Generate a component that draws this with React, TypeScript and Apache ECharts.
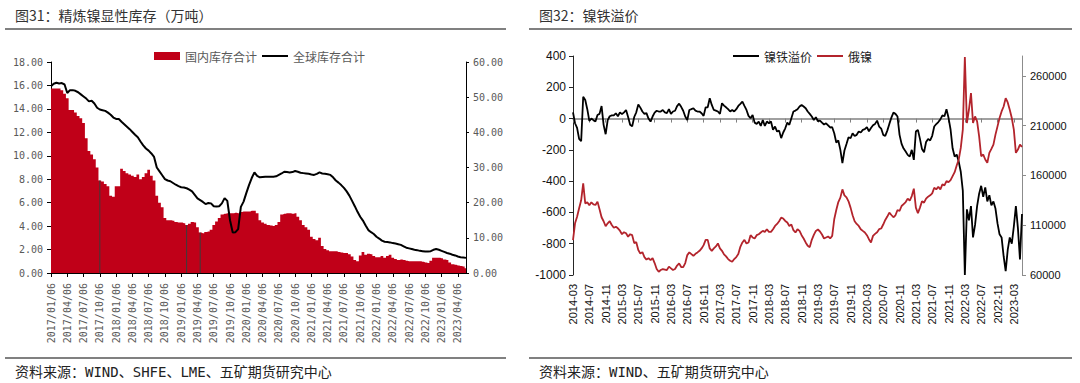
import React, { useEffect, useRef } from 'react';
import * as echarts from 'echarts';

// ---------- Figure 31: refined nickel visible inventory (10k t), semi-monthly from 2017/01 ----------
const domesticStock = [
  15.73, 15.73, 15.73, 15.73, 15.6, 15.3, 14.9, 13.9, 13.9, 13.7,
  13.4, 13.2, 12.8, 11.5, 10.4, 10.1, 9.7, 9.0, 7.9, 7.8,
  7.6, 7.4, 6.6, 6.5, 7.4, 7.4, 8.9, 8.7, 8.5, 8.4,
  8.3, 8.2, 8.4, 8.0, 8.2, 8.5, 8.8, 8.3, 7.9, 6.6,
  6.0, 5.6, 4.7, 4.5, 4.5, 4.45, 4.35, 4.3, 4.3, 4.25,
  4.1, 4.2, 4.35, 4.3, 3.9, 3.45, 3.4, 3.5, 3.55, 3.7,
  4.1, 4.4, 4.7, 5.0, 5.05, 5.1, 5.1, 5.1, 5.15, 5.1,
  5.2, 5.25, 5.25, 5.25, 5.3, 5.3, 5.1, 4.5, 4.3, 4.2,
  4.1, 4.05, 4.0, 4.1, 4.35, 5.0, 5.05, 5.1, 5.1, 5.05,
  5.1, 4.8, 4.5, 4.1, 3.9, 3.7, 3.1, 2.9, 2.8, 3.0,
  2.3, 2.05, 1.95, 1.85, 1.85, 1.85, 1.8, 1.75, 1.7, 1.7,
  1.6, 1.4, 1.1, 1.0, 1.5, 1.8, 1.55, 1.65, 1.6, 1.45,
  1.35, 1.35, 1.45, 1.3, 1.45, 1.55, 1.3, 1.2, 1.1, 1.15,
  1.1, 1.05, 1.0, 1.0, 1.0, 1.0, 1.0, 0.95, 0.9, 0.85,
  1.05, 1.3, 1.3, 1.3, 1.25, 1.15, 1.1, 0.9, 0.75, 0.7,
  0.65, 0.6, 0.55, 0.4,
];

const globalStock = [
  53.1, 53.8, 54.1, 53.9, 54.0, 53.6, 51.2, 52.0, 52.0, 51.8,
  51.4, 50.8, 50.2, 49.6, 48.8, 49.0, 48.2, 47.0, 46.5, 46.3,
  46.1, 45.6, 45.0, 44.2, 43.8, 43.8, 43.0, 42.3, 41.6, 40.9,
  40.1, 39.3, 38.6, 37.4, 36.3, 35.4, 34.8, 34.0, 33.0, 30.0,
  28.9, 27.8, 26.7, 26.3, 26.1, 25.6, 25.1, 24.7, 24.4, 24.3,
  24.1, 23.7, 23.2, 22.2, 21.2, 20.7, 20.2, 19.6, 19.9, 19.8,
  19.0, 18.9, 19.0, 19.8, 21.3, 20.5, 15.0, 11.5, 11.6, 12.5,
  18.8, 20.3, 22.7, 25.0, 27.0, 28.6, 27.6, 27.2, 27.3, 27.4,
  27.4, 27.4, 27.4, 27.5, 27.9, 28.3, 28.8, 28.7, 28.6, 28.7,
  29.0, 28.8, 28.5, 28.4, 28.3, 28.2, 28.0, 27.9, 28.2, 28.6,
  28.3, 28.2, 28.1, 27.9, 27.2, 26.3, 25.7, 25.0, 24.2, 23.2,
  22.0, 20.5, 19.0, 17.4, 16.0, 14.9, 13.5, 12.2, 11.6, 11.1,
  10.3, 9.8, 9.2, 8.9, 8.8, 8.7, 8.5, 8.4, 8.2, 8.0,
  7.6, 7.2, 7.0, 6.8, 6.6, 6.5, 6.3, 6.2, 6.1, 6.1,
  6.2, 6.6, 6.8, 6.6, 6.3, 6.0, 5.7, 5.5, 5.2, 5.0,
  4.7, 4.5, 4.4, 4.3,
];

// indices of the thin dark gaps visible inside the red area
const gapIndices = [18, 50, 55];

// ---------- Figure 32: NPI premium (left axis) and Russian nickel (right axis), semi-monthly from 2014-03 ----------
const nickelPigIronPremium = [
  40, -30, -60, -130, -145, 140, 119, 60, -15, 0,
  -10, -19, 23, 30, 80, -40, -100, -10, 15, 20,
  20, 34, 15, 40, 28, 40, 55, 10, -40, -50,
  10, 40, 90, 70, 45, 30, 35, 0, -19, 13,
  38, 50, 45, 45, 55, 40, 35, 60, 30, 45,
  50, 80, 95, 75, 50, 13, -10, 55, 60, 66,
  51, 45, 45, 34, 17, 72, 72, 130, 87, 55,
  51, 45, 30, 98, 83, 72, 60, 45, 55, 45,
  60, 81, 94, 108, 81, 55, 17, 2, 23, -26,
  -34, -19, -47, -9, -47, -19, -30, -19, -72, -51,
  -83, -77, -125, -89, -62, -26, -40, 2, 45, 51,
  60, 77, 87, 77, 66, 45, 30, 13, -9, 9,
  -17, -13, -26, -38, -30, -43, -57, -55, -94, -153,
  -140, -200, -285, -204, -162, -119, -126, -94, -111, -104,
  -83, -89, -72, -68, -55, -81, -60, -43, -34, -13,
  -51, -64, -104, -111, -77, -34, 6, 38, 30, 13,
  -104, -162, -192, -211, -232, -243, -200, -264, -83, -72,
  -130, -195, -215, -150, -130, -140, -110, -51, -35, -22,
  -5, 20, 15, 60, 5, -70, -190, -243, -230, -275,
  -340, -460, -1000, -580, -650, -560, -760, -680, -560, -480,
  -430, -500, -440, -530, -490, -555, -530, -575, -670, -740,
  -760, -880, -975, -840, -760, -800, -690, -560, -700, -900,
  -610,
];

const russianNickel = [
  95000, 111900, 118600, 127000, 135000, 152000, 132000, 133000, 130000, 133000,
  131000, 130300, 133700, 126000, 118000, 114000, 109000, 111900, 114000, 110200,
  107500, 108500, 106900, 104500, 101000, 103000, 101900, 98500, 101000, 100000,
  92000, 93000, 85100, 81500, 83000, 78000, 75500, 76800, 75000, 77000,
  72000, 66000, 63300, 65000, 66000, 65500, 65000, 68400, 66700, 65000,
  66000, 69500, 71700, 68000, 68000, 72000, 80000, 82700, 81000, 79300,
  81300, 82700, 84300, 86700, 90000, 95300, 95300, 86700, 84300, 86700,
  88700, 91700, 86700, 84300, 80700, 78700, 76000, 74300, 73300, 76000,
  78000, 81000, 88300, 92700, 95300, 91700, 92700, 100000, 97700, 96700,
  100000, 101000, 102700, 104300, 103300, 106000, 103300, 103300, 106000, 109300,
  111300, 114000, 117700, 116700, 114300, 112700, 109300, 110700, 105000, 102700,
  106000, 104300, 100000, 96700, 92700, 89300, 88000, 95300, 100300, 104300,
  105700, 103700, 100700, 96700, 97700, 98700, 96700, 99300, 116000, 125300,
  133300, 137700, 146000, 140000, 138000, 134000, 127700, 120000, 114000, 111300,
  109300, 106000, 104300, 102700, 100000, 96000, 92700, 99300, 101300, 103000,
  106000, 106700, 110700, 115300, 118700, 122700, 120300, 118000, 120000, 125300,
  124300, 129300, 131300, 133300, 136700, 134700, 139300, 146700, 127700, 122000,
  127700, 134000, 132700, 136700, 138700, 140000, 142000, 147700, 146000, 148700,
  146000, 151000, 150000, 154300, 153300, 155300, 159300, 163300, 170000, 176000,
  187700, 206000, 279000, 212700, 226000, 242700, 212700, 219300, 214300, 199300,
  179300, 181000, 176000, 172700, 182700, 186700, 191000, 201000, 209300, 217700,
  224300, 229300, 237700, 233300, 226000, 217700, 206000, 182700, 186000, 191000,
  188700,
];

// semi-monthly category names (time positions only)
function halfMonthCats(startYear: number, startMonth: number, count: number, days: [string, string], sep: string): string[] {
  const out: string[] = [];
  for (let i = 0; i < count; i++) {
    const mIdx = startMonth - 1 + Math.floor(i / 2);
    const y = startYear + Math.floor(mIdx / 12);
    const m = (mIdx % 12) + 1;
    out.push(`${y}${sep}${String(m).padStart(2, '0')}${sep}${days[i % 2]}`);
  }
  return out;
}

const stockDates = halfMonthCats(2017, 1, domesticStock.length, ['06', '21'], '/');
const premiumDates = halfMonthCats(2014, 3, nickelPigIronPremium.length, ['01', '16'], '-');

const RED_BAR = '#C00018';
const RED_LINE = '#B3242C';
const monoFont = "'DejaVu Sans Mono', 'Noto Sans CJK SC', monospace";
const sansFont = "'Liberation Sans', Arial, sans-serif";
const cjkFont = "'Noto Sans CJK SC', sans-serif";
const LINE_ICON = 'path://M0 0H26V2H0Z';

export default function App() {
  const ref = useRef<HTMLDivElement>(null);

  useEffect(() => {
    if (!ref.current) return;
    const chart = echarts.init(ref.current, null, { renderer: 'svg' });

    const gapData = domesticStock.map((v, i) => (gapIndices.includes(i) ? v : null));
    const plain = (v: number) => String(v);

    const option: any = {
      animation: false,
      backgroundColor: '#ffffff',
      textStyle: { fontFamily: cjkFont },
      grid: [
        { left: 51, top: 62, width: 415, height: 211, outerBoundsMode: 'none' },
        { left: 573, top: 56, width: 449, height: 219, outerBoundsMode: 'none' },
      ],
      legend: [
        {
          left: 154, top: 50, padding: 0, itemWidth: 26, itemHeight: 8, itemGap: 5,
          selectedMode: false,
          textStyle: { fontSize: 12, color: '#595959', fontFamily: cjkFont },
          data: [
            { name: '国内库存合计', icon: 'rect', itemStyle: { borderWidth: 0 } },
            { name: '全球库存合计', icon: LINE_ICON, itemStyle: { borderWidth: 0 } },
          ],
        },
        {
          left: 733, top: 50, padding: 0, itemWidth: 26, itemHeight: 8, itemGap: 5,
          selectedMode: false,
          textStyle: { fontSize: 12, color: '#222', fontFamily: cjkFont },
          data: [
            { name: '镍铁溢价', icon: LINE_ICON, itemStyle: { borderWidth: 0 } },
            { name: '俄镍', icon: LINE_ICON, itemStyle: { borderWidth: 0 } },
          ],
        },
      ],
      xAxis: [
        {
          type: 'category', gridIndex: 0, data: stockDates, boundaryGap: false,
          axisLine: { show: true, lineStyle: { color: '#000', width: 1 } },
          axisTick: { show: true, interval: 5, length: 4, lineStyle: { color: '#000' } },
          axisLabel: { interval: 5, rotate: 90, margin: 10, fontSize: 10, color: '#595959', fontFamily: monoFont },
          splitLine: { show: false },
        },
        {
          type: 'category', gridIndex: 1, data: premiumDates, boundaryGap: false, position: 'bottom',
          axisLine: { show: false, onZero: false },
          axisTick: { show: false },
          axisLabel: {
            interval: 7, rotate: 90, margin: 9, fontSize: 11, color: '#111', fontFamily: sansFont,
            formatter: (v: string) => v.slice(0, 7),
          },
          splitLine: { show: false },
        },
        {
          type: 'category', gridIndex: 1, data: premiumDates, boundaryGap: false, position: 'bottom',
          axisLine: { show: true, onZero: true, onZeroAxisIndex: 2, lineStyle: { color: '#808080', width: 1.5 } },
          axisTick: { show: true, interval: 7, length: 4, lineStyle: { color: '#808080' } },
          axisLabel: { show: false },
          splitLine: { show: false },
        },
      ],
      yAxis: [
        {
          type: 'value', gridIndex: 0, position: 'left', min: 0, max: 18, interval: 2,
          axisLine: { show: true, lineStyle: { color: '#000' } },
          axisTick: { show: true, length: 4, lineStyle: { color: '#000' } },
          splitLine: { show: false },
          axisLabel: { margin: 8, fontSize: 10, color: '#595959', fontFamily: monoFont, formatter: (v: number) => v.toFixed(2) },
        },
        {
          type: 'value', gridIndex: 0, position: 'right', min: 0, max: 60, interval: 10,
          axisLine: { show: true, lineStyle: { color: '#000' } },
          axisTick: { show: true, length: 3, lineStyle: { color: '#000' } },
          splitLine: { show: false },
          axisLabel: { margin: 7, fontSize: 10, color: '#595959', fontFamily: monoFont, formatter: (v: number) => v.toFixed(2) },
        },
        {
          type: 'value', gridIndex: 1, position: 'left', min: -1000, max: 400, interval: 200,
          axisLine: { show: true, lineStyle: { color: '#262626' } },
          axisTick: { show: true, length: 4, lineStyle: { color: '#262626' } },
          splitLine: { show: false },
          axisLabel: { margin: 7, fontSize: 12, color: '#111', fontFamily: sansFont, formatter: plain },
        },
        {
          type: 'value', gridIndex: 1, position: 'right', min: 60000, max: 280000, interval: 50000,
          axisLine: { show: true, lineStyle: { color: '#8c8c8c' } },
          axisTick: { show: true, length: 4, lineStyle: { color: '#8c8c8c' } },
          splitLine: { show: false },
          axisLabel: { margin: 8, fontSize: 11, color: '#111', fontFamily: sansFont, showMaxLabel: false, formatter: plain },
        },
      ],
      series: [
        {
          name: '国内库存合计', type: 'line', xAxisIndex: 0, yAxisIndex: 0, data: domesticStock,
          step: 'middle', symbol: 'none', lineStyle: { width: 0 },
          itemStyle: { color: RED_BAR }, areaStyle: { color: RED_BAR, opacity: 1 }, z: 2,
        },
        {
          name: '_gap', type: 'bar', xAxisIndex: 0, yAxisIndex: 0, data: gapData,
          barWidth: 1, itemStyle: { color: '#3c3c3c' }, z: 3, silent: true,
        },
        {
          name: '全球库存合计', type: 'line', xAxisIndex: 0, yAxisIndex: 1, data: globalStock,
          symbol: 'none', lineStyle: { width: 2, color: '#000' }, itemStyle: { color: '#000' }, z: 4,
        },
        {
          name: '镍铁溢价', type: 'line', xAxisIndex: 1, yAxisIndex: 2, data: nickelPigIronPremium,
          symbol: 'none', lineStyle: { width: 1.8, color: '#000' }, itemStyle: { color: '#000' }, z: 3,
        },
        {
          name: '俄镍', type: 'line', xAxisIndex: 1, yAxisIndex: 3, data: russianNickel,
          symbol: 'none', lineStyle: { width: 1.8, color: RED_LINE }, itemStyle: { color: RED_LINE }, z: 4,
        },
      ],
      graphic: [
        { type: 'text', left: 15, top: 8, style: { text: '图31：精炼镍显性库存（万吨）', fontSize: 14, fill: '#333', fontFamily: cjkFont } },
        { type: 'line', shape: { x1: 5, y1: 29, x2: 506, y2: 29 }, style: { stroke: '#808080', lineWidth: 2 } },
        { type: 'text', left: 539, top: 8, style: { text: '图32：镍铁溢价', fontSize: 14, fill: '#333', fontFamily: cjkFont } },
        { type: 'line', shape: { x1: 529, y1: 29, x2: 1072, y2: 29 }, style: { stroke: '#808080', lineWidth: 2 } },
        { type: 'line', shape: { x1: 5, y1: 358, x2: 506, y2: 358 }, style: { stroke: '#808080', lineWidth: 2 } },
        { type: 'line', shape: { x1: 529, y1: 358, x2: 1072, y2: 358 }, style: { stroke: '#808080', lineWidth: 2 } },
        { type: 'text', left: 15, top: 365, style: { text: '资料来源：WIND、SHFE、LME、五矿期货研究中心', fontSize: 14, fill: '#222', fontFamily: monoFont } },
        { type: 'text', left: 539, top: 365, style: { text: '资料来源：WIND、五矿期货研究中心', fontSize: 14, fill: '#222', fontFamily: monoFont } },
      ],
    };

    chart.setOption(option);
    return () => chart.dispose();
  }, []);

  return (
    <div
      ref={ref}
      style={{ position: 'fixed', left: 0, top: 0, width: 1080, height: 383, background: '#fff' }}
    />
  );
}
